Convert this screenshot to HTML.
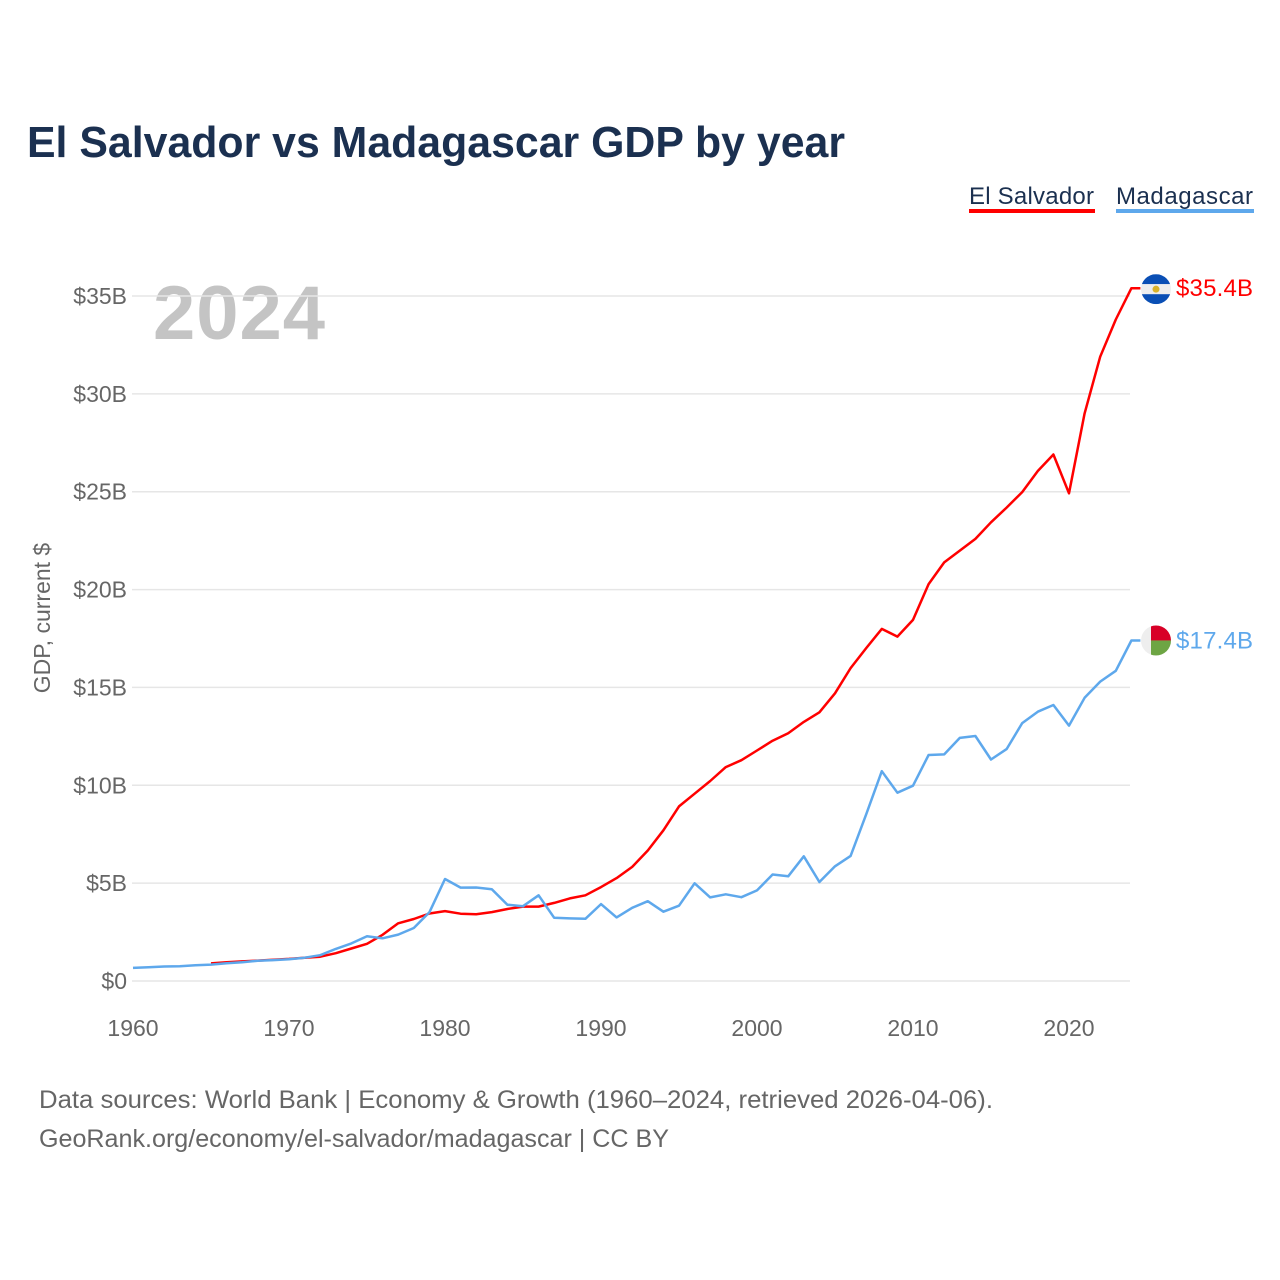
<!DOCTYPE html>
<html><head><meta charset="utf-8"><style>
body{margin:0;background:#fff;font-family:"Liberation Sans",sans-serif}
svg{display:block}
</style></head><body>
<svg id="chart" width="1280" height="1280">
<text x="27" y="157" font-size="44" font-weight="bold" fill="#1b3050" textLength="818" lengthAdjust="spacingAndGlyphs">El Salvador vs Madagascar GDP by year</text>
<g>
<text x="969" y="204" font-size="24" fill="#1b3050" textLength="125">El Salvador</text>
<rect x="969" y="209" width="126" height="4" fill="#ff0000"/>
<text x="1116" y="204" font-size="24" fill="#1b3050" textLength="137">Madagascar</text>
<rect x="1116" y="209" width="138" height="4" fill="#5ea8ec"/>
</g>
<text x="153" y="339" font-size="76" font-weight="bold" fill="#c4c4c4" textLength="172">2024</text>
<text transform="translate(50,618) rotate(-90)" text-anchor="middle" font-size="23" fill="#666">GDP, current $</text>
<g id="grid"></g><g id="lines"></g><g id="labels"></g>
<text x="39" y="1108" font-size="25" fill="#666" textLength="954" lengthAdjust="spacingAndGlyphs">Data sources: World Bank | Economy &amp; Growth (1960–2024, retrieved 2026-04-06).</text>
<text x="39" y="1147" font-size="25" fill="#666" textLength="630" lengthAdjust="spacingAndGlyphs">GeoRank.org/economy/el-salvador/madagascar | CC BY</text>
</svg>
<script>
const yTicks=[0,5,10,15,20,25,30,35];
const xTicks=[1960,1970,1980,1990,2000,2010,2020];
const svYears=[1965,1966,1967,1968,1969,1970,1971,1972,1973,1974,1975,1976,1977,1978,1979,1980,1981,1982,1983,1984,1985,1986,1987,1988,1989,1990,1991,1992,1993,1994,1995,1996,1997,1998,1999,2000,2001,2002,2003,2004,2005,2006,2007,2008,2009,2010,2011,2012,2013,2014,2015,2016,2017,2018,2019,2020,2021,2022,2023,2024];
const svValues=[0.90,0.96,1.0,1.04,1.09,1.13,1.19,1.24,1.42,1.66,1.90,2.36,2.95,3.17,3.45,3.57,3.44,3.41,3.52,3.68,3.80,3.80,3.99,4.22,4.38,4.80,5.26,5.83,6.67,7.70,8.92,9.57,10.22,10.93,11.28,11.78,12.28,12.66,13.24,13.73,14.70,15.99,17.01,17.99,17.60,18.45,20.28,21.39,21.99,22.59,23.44,24.19,24.98,26.06,26.90,24.92,29.0,31.9,33.8,35.4];
const mgYears=[];for(let y=1960;y<=2024;y++)mgYears.push(y);
const mgValues=[0.67,0.70,0.74,0.75,0.80,0.84,0.91,0.96,1.03,1.07,1.11,1.19,1.32,1.64,1.92,2.29,2.18,2.37,2.71,3.51,5.21,4.77,4.78,4.69,3.90,3.82,4.38,3.23,3.20,3.18,3.93,3.25,3.74,4.08,3.54,3.85,4.99,4.27,4.43,4.28,4.63,5.44,5.35,6.37,5.06,5.86,6.39,8.52,10.72,9.62,9.98,11.55,11.58,12.42,12.52,11.32,11.85,13.18,13.76,14.10,13.05,14.47,15.30,15.85,17.4];
const NS='http://www.w3.org/2000/svg';
const X=y=>133+(y-1960)*15.6;
const Y=v=>981-v*19.571;
function mk(t,a,p){const e=document.createElementNS(NS,t);for(const k in a)e.setAttribute(k,a[k]);p.appendChild(e);return e;}
const grid=document.getElementById('grid');
yTicks.forEach(v=>{
 const l=mk('line',{x1:132,x2:1130,y1:Y(v),y2:Y(v),stroke:'#e6e6e6','stroke-width':1.5},grid);
 
 
 const t=mk('text',{x:127,y:Y(v)+8,'text-anchor':'end','font-size':23,fill:'#666'},grid);
 t.textContent='$'+v+(v?'B':'');
 
 
});
xTicks.forEach(v=>{
 const t=mk('text',{x:X(v),y:1036,'text-anchor':'middle','font-size':23,fill:'#666'},grid);
 t.textContent=v;
 
 
});
const lines=document.getElementById('lines');
function series(ys,vs,c,name){
 let d=ys.map((y,i)=>(i?'L':'M')+X(y).toFixed(1)+','+Y(vs[i]).toFixed(1)).join('');
 const last=vs[vs.length-1];
 d+='L'+(X(ys[ys.length-1])+9).toFixed(1)+','+Y(last).toFixed(1);
 const p=mk('path',{d:d,fill:'none',stroke:c,'stroke-width':2.5,'stroke-linejoin':'round'},lines);
 
 
 return Y(last);
}
const ySv=series(svYears,svValues,'#ff0000','el-salvador');
const yMg=series(mgYears,mgValues,'#5ea8ec','madagascar');
const lab=document.getElementById('labels');
const g1=mk('g',{},lab);


const cp1=mk('clipPath',{id:'c1'},g1);mk('circle',{cx:1156,cy:ySv+1,r:15},cp1);
const f1=mk('g',{'clip-path':'url(#c1)'},g1);
mk('rect',{x:1141,y:ySv-14,width:30,height:10,fill:'#0a4fb5'},f1);
mk('rect',{x:1141,y:ySv-4,width:30,height:10,fill:'#eeeeee'},f1);
mk('rect',{x:1141,y:ySv+6,width:30,height:10,fill:'#0a4fb5'},f1);
mk('circle',{cx:1156,cy:ySv+1,r:3.5,fill:'#d9b32a'},f1);
const t1=mk('text',{x:1176,y:ySv+8,'font-size':24,fill:'#ff0000',textLength:77},lab);
t1.textContent='$35.4B';


const g2=mk('g',{},lab);


const cp=mk('clipPath',{id:'c2'},g2);mk('circle',{cx:1156,cy:yMg,r:15},cp);
const f2=mk('g',{'clip-path':'url(#c2)'},g2);
mk('rect',{x:1141,y:yMg-15,width:30,height:30,fill:'#eeeeee'},f2);
mk('rect',{x:1151,y:yMg-15,width:20,height:15,fill:'#d80027'},f2);
mk('rect',{x:1151,y:yMg,width:20,height:15,fill:'#6da544'},f2);
const t2=mk('text',{x:1176,y:yMg+8,'font-size':24,fill:'#5ea8ec',textLength:77},lab);
t2.textContent='$17.4B';


</script>
</body></html>
